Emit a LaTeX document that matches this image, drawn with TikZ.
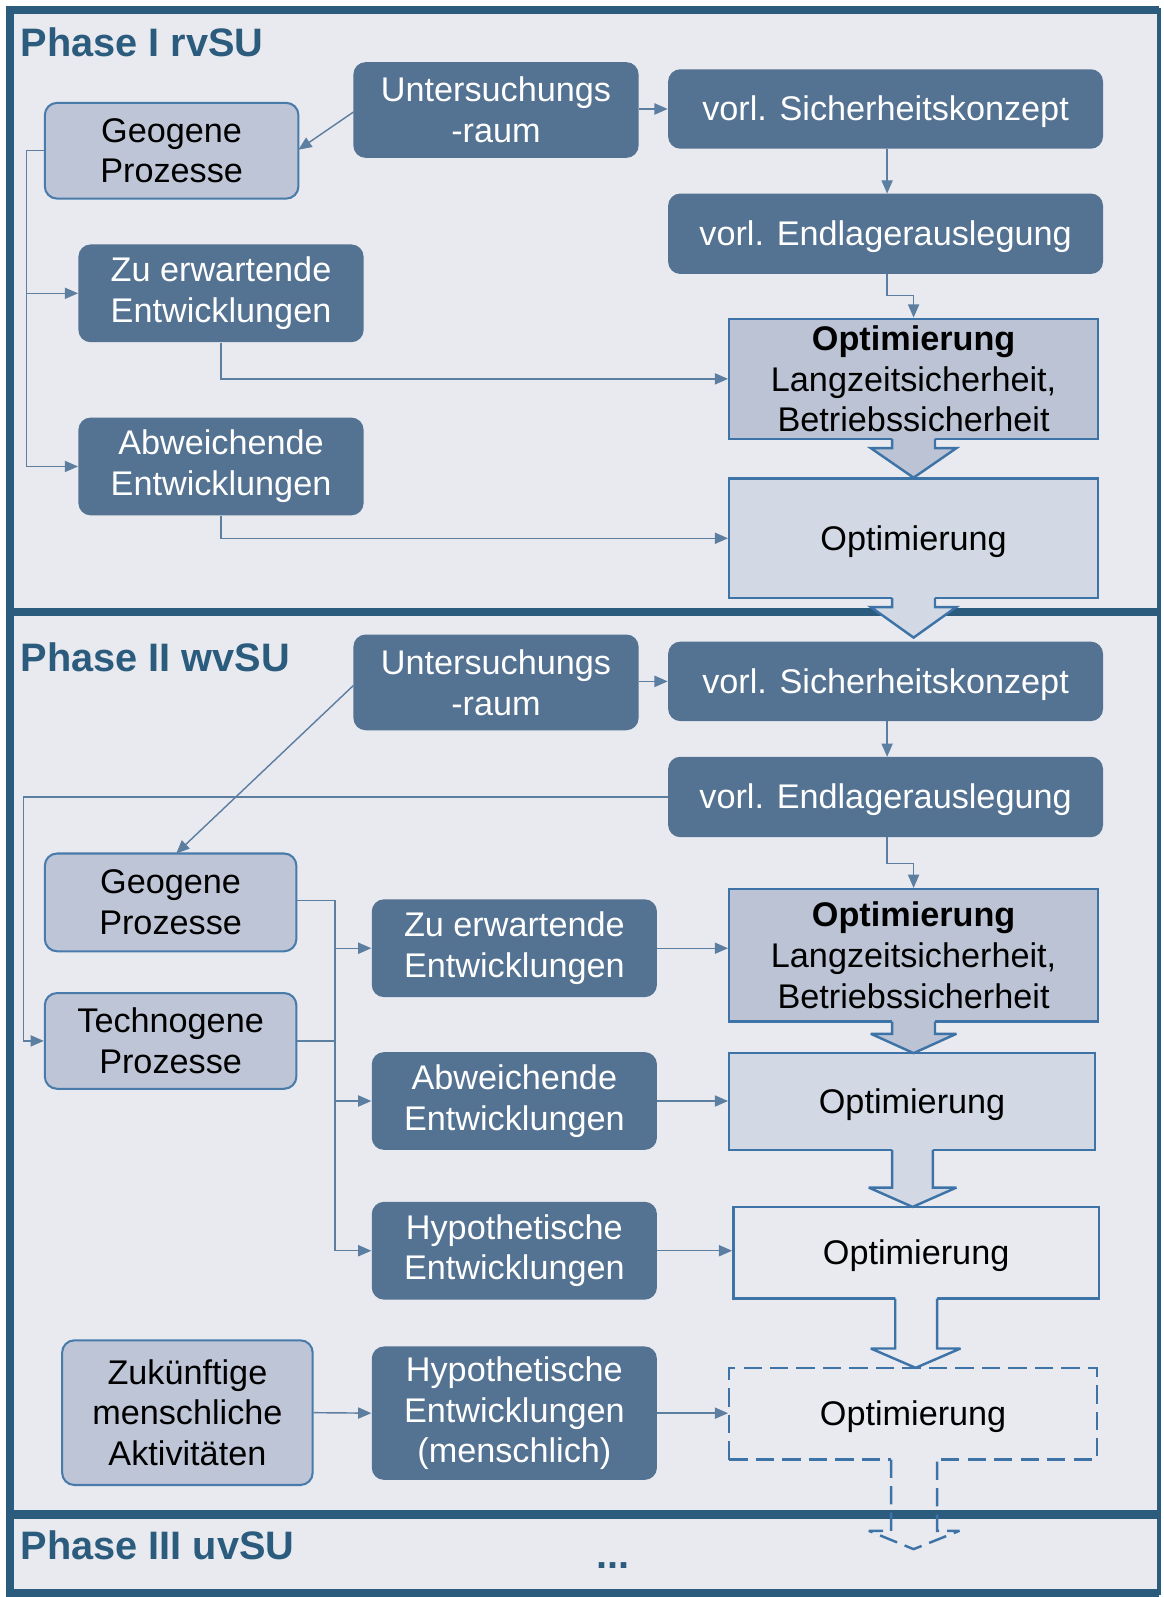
\documentclass[tikz,border=0pt]{standalone}
\usepackage{fontspec}
\setmainfont{Liberation Sans}
\usetikzlibrary{arrows.meta}

\definecolor{frameblue}{RGB}{43,92,125}
\definecolor{bgfill}{RGB}{233,234,240}
\definecolor{darkfill}{RGB}{84,114,145}
\definecolor{lightfill}{RGB}{189,197,214}
\definecolor{lightborder}{RGB}{72,122,170}
\definecolor{optborder}{RGB}{62,115,168}
\definecolor{optstrong}{RGB}{187,195,212}
\definecolor{optsoft}{RGB}{210,217,228}
\definecolor{connblue}{RGB}{92,126,160}

\begin{document}
\begin{tikzpicture}[x=0.5pt,y=-0.5pt,
  box/.style={align=center, inner sep=0pt, font=\fontsize{16.8}{20}\selectfont,
    execute at begin node={\rule{0pt}{15pt}}},
  dark/.style={box, rounded corners=6pt, fill=darkfill, text=white},
  light/.style={box, rounded corners=6pt, fill=lightfill, draw=lightborder, line width=1pt, text=black},
  opt/.style={box, draw=optborder, line width=1.2pt, text=black, minimum width=181pt},
  conn/.style={draw=connblue, line width=0.7pt, -{Triangle[length=6.5pt,width=5.5pt]}},
  plain/.style={draw=connblue, line width=0.7pt},
  title/.style={anchor=base west, inner sep=0pt, text=frameblue, font=\fontsize{19.5}{22}\selectfont\bfseries},
  blk/.style={draw=optborder, line width=1.2pt, line join=miter, miter limit=4}
]
\useasboundingbox (0,0) rectangle (1142,1568);

% background and phase frame
\fill[white] (0,0) rectangle (1142,1568);
\fill[bgfill] (10,10) rectangle (1138,1564);
\draw[frameblue, line width=4pt] (1138,10) -- (10,10) -- (10,1564) -- (1138,1564);
\draw[frameblue, line width=1.6pt] (1138,8) -- (1138,1566);
\draw[frameblue, line width=4pt] (10,601) -- (1138,601);
\draw[frameblue, line width=4pt] (10,1487) -- (1138,1487);

\node[title] (t1) at (20,55) {Phase I rvSU};
\node[title] (t2) at (20,659) {Phase II wvSU};
\node[title] (t3) at (20,1531) {Phase III uvSU};
\node[title, anchor=base] (dots) at (602,1540) {...};

% ---------------- Phase I ----------------
\node[dark, minimum width=140pt, minimum height=47pt] (u1) at (487,108) {Untersuchungs\\-raum};
\node[dark, minimum width=213.5pt, minimum height=39pt] (s1) at (869.5,107) {vorl. Sicherheitskonzept};
\node[dark, minimum width=213.5pt, minimum height=39.5pt] (e1) at (869.5,229.5) {vorl. Endlagerauslegung};
\node[light, minimum width=124.5pt, minimum height=47pt] (g1) at (168.5,148) {Geogene\\Prozesse};
\node[dark, minimum width=140pt, minimum height=48pt] (z1) at (217,288) {Zu erwartende\\Entwicklungen};
\node[dark, minimum width=140pt, minimum height=48pt] (a1) at (217,458) {Abweichende\\Entwicklungen};
\node[opt, fill=optstrong, minimum height=59pt] (ob1) at (897,372) {\textbf{Optimierung}\\Langzeitsicherheit,\\Betriebssicherheit};
\node[opt, fill=optsoft, minimum height=58.5pt] (o1) at (897,528.5) {Optimierung};

\draw[conn] (u1.east |- s1.west) -- (s1.west);
\draw[conn] (347,110) -- (293,147);
\draw[conn] (871,146) -- (871,190);
\draw[conn] (871,269) -- (871,290) -- (897,290) -- (ob1.north);
\draw[plain] (g1.west) -- (26,148) -- (26,458);
\draw[conn] (26,288) -- (z1.west);
\draw[conn] (26,458) -- (a1.west);
\draw[conn] (z1.south) |- (ob1.west);
\draw[conn] (a1.south) |- (o1.west);

% block arrows
\fill[optstrong] (876,429) -- (876,440) -- (855,440) -- (897,469) -- (939,440) -- (918,440) -- (918,429) -- cycle;
\draw[blk] (876,431) -- (876,440) -- (855,440) -- (897,469) -- (939,440) -- (918,440) -- (918,431);
\fill[optsoft] (876,585) -- (876,596) -- (855,596) -- (897,626) -- (939,596) -- (918,596) -- (918,585) -- cycle;
\draw[blk] (876,587) -- (876,596) -- (855,596) -- (897,626) -- (939,596) -- (918,596) -- (918,587);

% ---------------- Phase II ----------------
\node[dark, minimum width=140pt, minimum height=47pt] (u2) at (487,670) {Untersuchungs\\-raum};
\node[dark, minimum width=213.5pt, minimum height=39pt] (s2) at (869.5,669) {vorl. Sicherheitskonzept};
\node[dark, minimum width=213.5pt, minimum height=39.5pt] (e2) at (869.5,782.5) {vorl. Endlagerauslegung};
\node[light, minimum width=123.5pt, minimum height=48pt] (g2) at (167.5,886) {Geogene\\Prozesse};
\node[light, minimum width=123.5pt, minimum height=47pt] (tg2) at (167.5,1022) {Technogene\\Prozesse};
\node[dark, minimum width=140pt, minimum height=48pt] (z2) at (505,931) {Zu erwartende\\Entwicklungen};
\node[dark, minimum width=140pt, minimum height=48pt] (a2) at (505,1081) {Abweichende\\Entwicklungen};
\node[dark, minimum width=140pt, minimum height=48pt] (h2) at (505,1228) {Hypothetische\\Entwicklungen};
\node[light, minimum width=123pt, minimum height=71pt] (k2) at (184,1387) {Zukünftige\\menschliche\\Aktivitäten};
\node[dark, minimum width=140pt, minimum height=65.5pt] (hm2) at (505,1387.5) {Hypothetische\\Entwicklungen\\(menschlich)};
\node[opt, fill=optstrong, minimum height=65pt] (ob2) at (897,938) {\textbf{Optimierung}\\Langzeitsicherheit,\\Betriebssicherheit};
\node[opt, fill=optsoft, minimum width=179.5pt, minimum height=47.5pt] (oa2) at (895.5,1081.5) {Optimierung};
\node[opt, minimum width=179.5pt, minimum height=45pt] (ob2w) at (899.5,1230) {Optimierung};
\node[opt, dashed, dash pattern=on 9pt off 4pt, minimum width=180.5pt, minimum height=45pt] (oc2) at (896.5,1388) {Optimierung};

\draw[conn] (u2.east |- s2.west) -- (s2.west);
\draw[conn] (871,708) -- (871,743);
\draw[conn] (871,822) -- (871,848) -- (897,848) -- (ob2.north);
\draw[conn] (347,673) -- (173,838);
\draw[conn] (e2.west) -- (23,782.5) |- (tg2.west);
\draw[plain] (g2.east |- 0,884) -- (329,884) -- (329,1228);
\draw[plain] (tg2.east) -- (329,1022);
\draw[conn] (329,931) -- (z2.west);
\draw[conn] (329,1081) -- (a2.west);
\draw[conn] (329,1228) -- (h2.west);
\draw[conn] (z2.east) -- (ob2.west |- z2.east);
\draw[conn] (a2.east) -- (oa2.west |- a2.east);
\draw[conn] (h2.east) -- (ob2w.west |- h2.east);
\draw[conn] (k2.east) -- (hm2.west);
\draw[conn] (hm2.east) -- (oc2.west |- hm2.east);

% block arrows
\fill[optstrong] (876,1001) -- (876,1015) -- (855,1015) -- (897,1034) -- (939,1015) -- (918,1015) -- (918,1001) -- cycle;
\draw[blk] (876,1003) -- (876,1015) -- (855,1015) -- (897,1034) -- (939,1015) -- (918,1015) -- (918,1003);
\fill[optsoft] (876,1127) -- (876,1166) -- (853,1166) -- (896,1185) -- (939,1166) -- (916,1166) -- (916,1127) -- cycle;
\draw[blk] (876,1129) -- (876,1166) -- (853,1166) -- (896,1185) -- (939,1166) -- (916,1166) -- (916,1129);
\fill[bgfill] (879,1273) -- (879,1324) -- (855,1324) -- (899,1343) -- (943,1324) -- (920,1324) -- (920,1273) -- cycle;
\draw[blk] (879,1275) -- (879,1324) -- (855,1324) -- (899,1343) -- (943,1324) -- (920,1324) -- (920,1275);
\fill[bgfill] (875,1431) -- (875,1435) -- (920,1435) -- (920,1431) -- cycle;
\draw[blk, dashed, dash pattern=on 9pt off 4pt] (875,1433) -- (875,1503) -- (853,1503) -- (897,1521) -- (942,1503) -- (920,1503) -- (920,1433);
\end{tikzpicture}
\end{document}
